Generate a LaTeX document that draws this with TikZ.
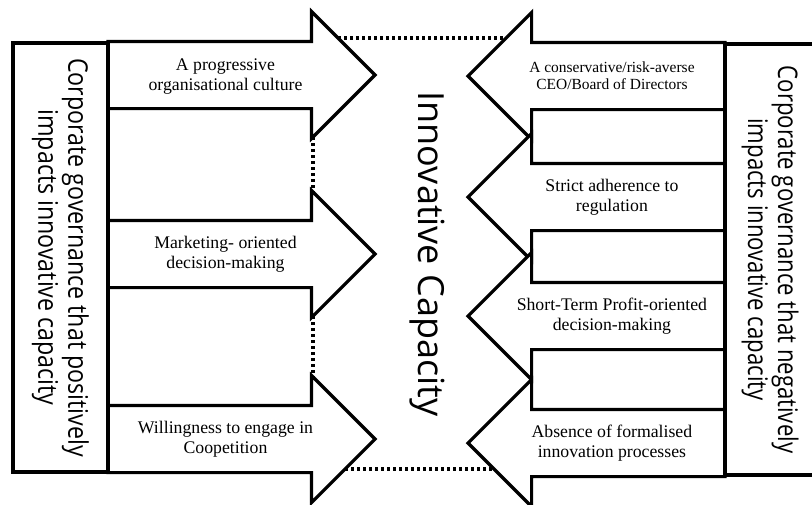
\documentclass[tikz,border=0pt]{standalone}
\usepackage{fontspec}
\setmainfont{Liberation Serif}
\newfontfamily\sidefont[FakeStretch=0.86]{Open Sans}
\newfontfamily\negfont[FakeStretch=0.82]{Open Sans}
\newfontfamily\capfont{Open Sans}
\usetikzlibrary{shapes.arrows,calc}

\begin{document}
\begin{tikzpicture}[x=0.75pt, y=-0.75pt,
    side/.style={rectangle, draw, line width=3pt, fill=white, inner sep=0pt, outer sep=0pt, rotate=-90,
        align=center, font=\sidefont\fontsize{20.25pt}{22.5pt}\selectfont},
    pro/.style={single arrow, draw, line width=2.4pt, fill=white, inner xsep=0pt, inner ysep=24pt, outer sep=0pt,
        single arrow head extend=22.5pt, single arrow tip angle=90, anchor=tail},
    con/.style={pro, shape border rotate=180},
    lbl/.style={align=center, inner sep=0pt, font=\fontsize{13.3pt}{15pt}\selectfont},
    gap/.style={line width=2.4pt, dash pattern=on 2.25pt off 2.25pt}]

    \useasboundingbox (0,0) rectangle (812,504);

    \node[pro, minimum height=200.25pt] (pro1) at (108,75) {};
    \node[pro, minimum height=200.25pt] (pro2) at (108,254) {};
    \node[pro, minimum height=200.25pt] (pro3) at (108,439) {};

    \node[con, minimum height=192.75pt] (con1) at (725,76) {};
    \node[con, minimum height=192.75pt] (con2) at (725,197) {};
    \node[con, minimum height=192.75pt] (con3) at (725,316) {};
    \node[con, minimum height=192.75pt] (con4) at (725,443) {};

    \node[side, minimum width=321.75pt, minimum height=71.25pt] (posbox) at (60.5,257.5)
        {Corporate governance that positively\\impacts innovative capacity};
    \node[side, minimum width=323.25pt, minimum height=67.5pt, font=\negfont\fontsize{20.25pt}{22.5pt}\selectfont]
        (negbox) at (770,259.5) {Corporate governance that negatively\\impacts innovative capacity};

    \node[lbl] (pl1) at ($(pro1.tail)!0.44!(pro1.tip)+(0,2)$) {A progressive\\organisational culture};
    \node[lbl] (pl2) at ($(pro2.tail)!0.44!(pro2.tip)$) {Marketing- oriented\\decision-making};
    \node[lbl] (pl3) at ($(pro3.tail)!0.44!(pro3.tip)$) {Willingness to engage in\\Coopetition};

    \node[lbl, font=\fontsize{11.6pt}{13pt}\selectfont] (cl1) at ($(con1.tail)!0.44!(con1.tip)$)
        {A conservative/risk-averse\\CEO/Board of Directors};
    \node[lbl] (cl2) at ($(con2.tail)!0.44!(con2.tip)$) {Strict adherence to\\regulation};
    \node[lbl] (cl3) at ($(con3.tail)!0.44!(con3.tip)$) {Short-Term Profit-oriented\\decision-making};
    \node[lbl] (cl4) at ($(con4.tail)!0.44!(con4.tip)$) {Absence of formalised\\innovation processes};

    \node[rotate=-90, font=\capfont\fontsize{27pt}{30pt}\selectfont] (cap) at (427,254) {Innovative Capacity};

    \draw[gap] ($(pro1.tip)+(-37,-37)$) -- ($(con1.tip)+(38,-38)$);
    \draw[gap] ($(pro3.tip)+(-30,30)$) -- ($(con4.tip)+(26,26)$);
    \draw[gap] ($(pro1.tip)+(-62,62)$) -- ($(pro2.tip)+(-62,-62)$);
    \draw[gap] ($(pro2.tip)+(-62,62)$) -- ($(pro3.tip)+(-62,-62)$);
\end{tikzpicture}
\end{document}
